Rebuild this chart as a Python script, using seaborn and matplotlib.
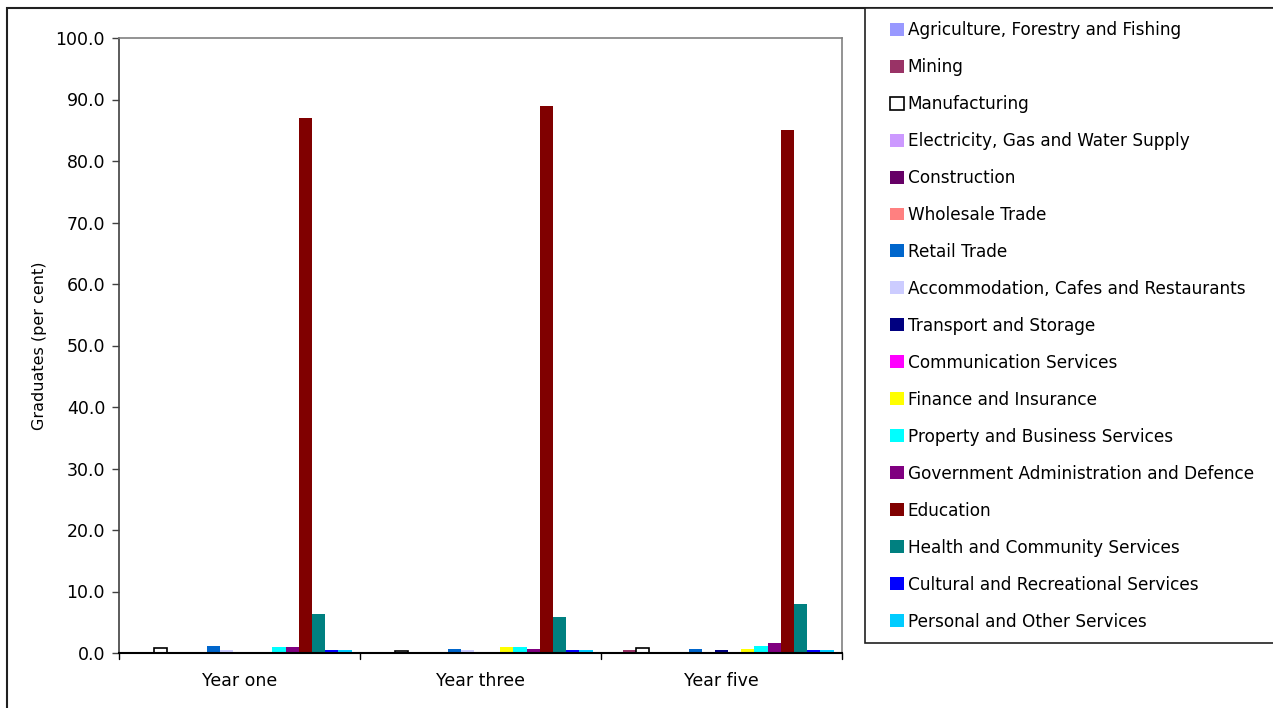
import matplotlib
matplotlib.use("Agg")
import matplotlib.pyplot as plt
from matplotlib.patches import Patch, Rectangle
import seaborn as sns
import pandas as pd

years = ["Year one", "Year three", "Year five"]

industries = [
    "Agriculture, Forestry and Fishing",
    "Mining",
    "Manufacturing",
    "Electricity, Gas and Water Supply",
    "Construction",
    "Wholesale Trade",
    "Retail Trade",
    "Accommodation, Cafes and Restaurants",
    "Transport and Storage",
    "Communication Services",
    "Finance and Insurance",
    "Property and Business Services",
    "Government Administration and Defence",
    "Education",
    "Health and Community Services",
    "Cultural and Recreational Services",
    "Personal and Other Services",
]

# per cent of graduates, one list per year in industry order
year_one = [0.0, 0.0, 0.8, 0.0, 0.2, 0.0, 1.1, 0.5, 0.2, 0.0, 0.1, 1.0, 1.0, 87.0, 6.4, 0.5, 0.5]
year_three = [0.0, 0.0, 0.3, 0.0, 0.2, 0.0, 0.7, 0.5, 0.0, 0.0, 1.0, 1.0, 0.7, 89.0, 5.8, 0.5, 0.5]
year_five = [0.0, 0.5, 0.8, 0.0, 0.2, 0.0, 0.7, 0.1, 0.5, 0.0, 0.7, 1.2, 1.6, 85.0, 8.0, 0.5, 0.5]

colors = [
    "#9999FF", "#993366", "#FFFFFF", "#CC99FF", "#660066", "#FF8080",
    "#0066CC", "#CCCCFF", "#000080", "#FF00FF", "#FFFF00", "#00FFFF",
    "#800080", "#800000", "#008080", "#0000FF", "#00CCFF",
]

rows = []
for year, vals in zip(years, [year_one, year_three, year_five]):
    for ind, v in zip(industries, vals):
        rows.append({"Year": year, "Industry": ind, "Value": v})
df = pd.DataFrame(rows)

sns.set_style("white")
plt.rcParams["font.family"] = ["DejaVu Sans"]
plt.rcParams["text.color"] = "black"
plt.rcParams["axes.labelcolor"] = "black"
plt.rcParams["xtick.color"] = "black"
plt.rcParams["ytick.color"] = "black"

fig = plt.figure(figsize=(12.73, 7.08), dpi=100)
W, H = 1273, 708
ax = fig.add_axes([119 / W, 1 - 653 / H, (842 - 119) / W, (653 - 38) / H])

palette = dict(zip(industries, colors))
sns.barplot(
    data=df, x="Year", y="Value", hue="Industry", order=years,
    hue_order=industries, palette=palette, width=0.93, gap=0,
    saturation=1, legend=False, errorbar=None, linewidth=0, ax=ax,
)

# outline the white Manufacturing bars
for cont, ind in zip(ax.containers, industries):
    if ind == "Manufacturing":
        for p in cont.patches:
            p.set_edgecolor("black")
            p.set_linewidth(1.2)

ax.set_ylim(0, 100)
ax.set_xlim(-0.5, 2.5)
ax.set_yticks(range(0, 101, 10))
ax.set_yticklabels([f"{v:.1f}" for v in range(0, 101, 10)], fontsize=12.5)
ax.set_xticks([0, 1, 2])
ax.set_xticklabels(years, fontsize=12.5)
ax.tick_params(axis="x", length=0, pad=14)
ax.tick_params(axis="y", length=5, width=1, color="#404040", left=True, pad=5)
# category separators on the x axis
for xb in [-0.5, 0.5, 1.5, 2.5]:
    ax.plot([xb, xb], [0, -0.009], transform=ax.get_xaxis_transform(),
            color="black", lw=1, clip_on=False)
ax.set_xlabel("")
ax.set_ylabel("Graduates (per cent)", fontsize=11.5, labelpad=6)

for side in ["top", "right", "left"]:
    ax.spines[side].set_visible(True)
    ax.spines[side].set_color("#808080")
    ax.spines[side].set_linewidth(1.2)
ax.spines["left"].set_color("#404040")
ax.spines["bottom"].set_color("black")
ax.spines["bottom"].set_linewidth(1.5)

# outer chart frame
fig.add_artist(Rectangle((7 / W, -0.05), 1.2, 1 - 8 / H + 0.05,
                         transform=fig.transFigure, fill=False,
                         edgecolor="#202020", lw=1.5))
# legend frame
fig.add_artist(Rectangle((865 / W, 1 - 643 / H), 1.0, (643 - 8) / H,
                         transform=fig.transFigure, facecolor="white",
                         edgecolor="#202020", lw=1.2, zorder=1))

handles = [
    Patch(facecolor=c, edgecolor="black" if ind == "Manufacturing" else c,
          linewidth=1.2 if ind == "Manufacturing" else 0)
    for ind, c in zip(industries, colors)
]
leg = fig.legend(
    handles=handles, labels=industries, loc="upper left",
    bbox_to_anchor=(890 / W, 1 - 21 / H), frameon=False, fontsize=12.2,
    handlelength=0.8, handleheight=0.8, handletextpad=0.25,
    labelspacing=1.12, borderpad=0, borderaxespad=0,
)
leg.set_zorder(3)

fig.savefig("out.png", dpi=100, facecolor="white")
